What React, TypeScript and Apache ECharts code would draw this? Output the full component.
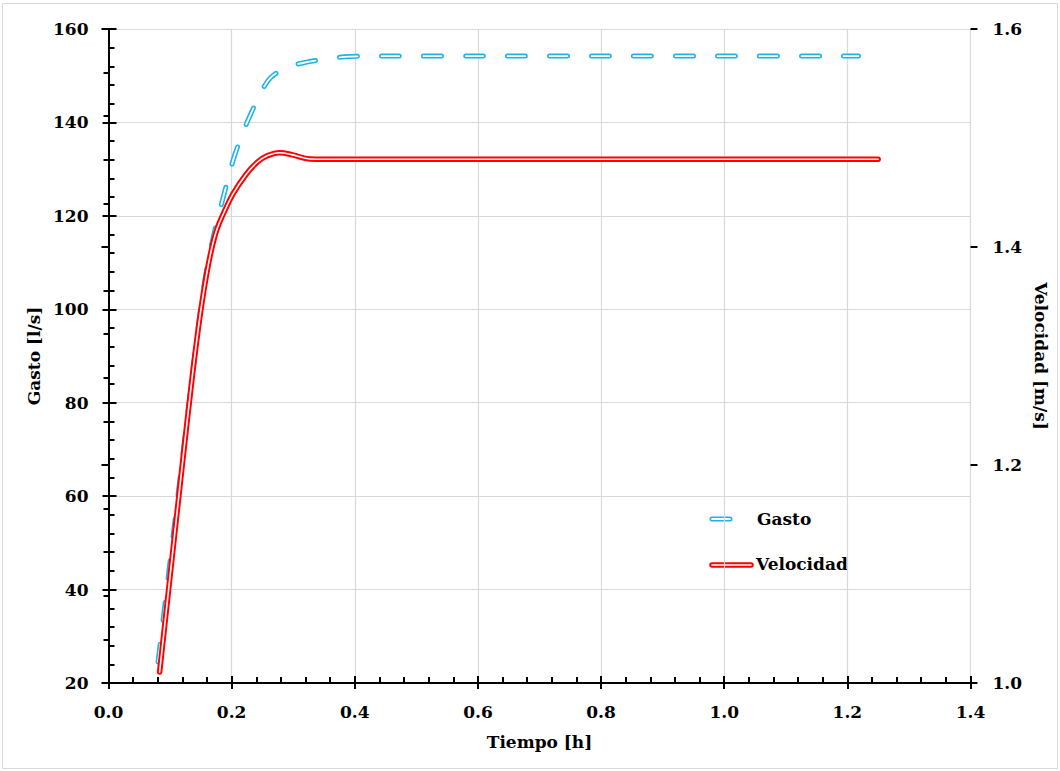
import React, { useEffect, useRef } from "react";
import * as echarts from "echarts";

const timeGasto = [0.0805, 0.1, 0.12, 0.135, 0.15, 0.16, 0.172, 0.187, 0.205, 0.229, 0.26, 0.29, 0.322, 0.36, 0.39, 0.45, 0.6, 0.8, 1.0, 1.218];
const gasto = [24.5, 46, 68, 84.5, 100.5, 109, 116.5, 124.3, 133, 141.2, 149.1, 151.8, 152.9, 153.7, 154.1, 154.2, 154.2, 154.2, 154.2, 154.2];

const timeVel = [0.083, 0.1, 0.12, 0.135, 0.143, 0.151, 0.159, 0.167, 0.176, 0.187, 0.202, 0.224, 0.242, 0.257, 0.278, 0.299, 0.327, 0.35, 0.6, 1.0, 1.25];
const velocidad = [1.010, 1.098, 1.201, 1.276, 1.313, 1.346, 1.374, 1.397, 1.416, 1.431, 1.4485, 1.467, 1.478, 1.4835, 1.4865, 1.4845, 1.4808, 1.4805, 1.4805, 1.4805, 1.4805];

const xTicks = ["0.0", "0.2", "0.4", "0.6", "0.8", "1.0", "1.2", "1.4"];
const seriesNames = ["Gasto", "Velocidad"];

const FONT = "'DejaVu Serif', serif";
const BLUE = "#1DB3EA";
const RED = "#FF0000";

export default function App() {
  const ref = useRef<HTMLDivElement>(null);
  useEffect(() => {
    if (!ref.current) return;
    const chart = echarts.init(ref.current, null, { renderer: "svg" });
    const gData = timeGasto.map((t, i) => [t, gasto[i]]);
    const vData = timeVel.map((t, i) => [t, velocidad[i]]);
    const label = { fontFamily: FONT, fontWeight: "bold" as const, fontSize: 17, color: "#000" };
    const axisLine = { show: true, lineStyle: { color: "#000", width: 2 } };
    const dash = [18, 24];
    chart.setOption({
      animation: false,
      backgroundColor: "#fff",
      grid: { left: 108.5, right: 89.5, top: 29, bottom: 88, containLabel: false },
      xAxis: [
        {
          type: "value", min: 0, max: 1.4, interval: 0.2, position: "bottom",
          name: "Tiempo [h]", nameLocation: "middle", nameGap: 50,
          nameTextStyle: { ...label },
          axisLine,
          axisTick: { show: true, inside: true, length: 7, lineStyle: { color: "#000", width: 2 } },
          minorTick: { show: true, splitNumber: 5, length: 6, lineStyle: { color: "#000", width: 2 } },
          splitLine: { show: true, lineStyle: { color: "#d9d9d9", width: 1.2 } },
          axisLabel: { ...label, margin: 20, formatter: (v: number) => xTicks[Math.round(v / 0.2)] ?? v.toFixed(1) },
        },
        {
          type: "value", min: 0, max: 1.4, interval: 0.2, position: "bottom",
          axisLine: { show: false },
          axisTick: { show: true, inside: false, length: 6, lineStyle: { color: "#000", width: 2 } },
          axisLabel: { show: false }, splitLine: { show: false },
        },
      ],
      yAxis: [
        {
          type: "value", min: 20, max: 160, interval: 20, position: "left",
          name: "Gasto [l/s]", nameLocation: "middle", nameGap: 62,
          nameTextStyle: { ...label },
          axisLine,
          axisTick: { show: true, inside: true, length: 8, lineStyle: { color: "#000", width: 2 } },
          minorTick: { show: true, splitNumber: 5, length: 6, lineStyle: { color: "#000", width: 2 } },
          splitLine: { show: true, lineStyle: { color: "#d9d9d9", width: 1.2 } },
          axisLabel: { ...label, margin: 20 },
        },
        {
          type: "value", min: 1.0, max: 1.6, interval: 0.2, position: "right",
          name: "Velocidad [m/s]", nameLocation: "middle", nameGap: 55, nameRotate: -90,
          nameTextStyle: { ...label },
          axisLine,
          axisTick: { show: true, inside: true, length: 7, lineStyle: { color: "#000", width: 2 } },
          minorTick: { show: true, splitNumber: 5, length: 5, lineStyle: { color: "#000", width: 2 } },
          splitLine: { show: false },
          axisLabel: { ...label, margin: 22, formatter: (v: number) => v.toFixed(1) },
        },
        {
          type: "value", min: 20, max: 160, interval: 20, position: "left",
          axisLine: { show: false },
          axisTick: { show: true, inside: false, length: 6, lineStyle: { color: "#000", width: 2 } },
          axisLabel: { show: false }, splitLine: { show: false },
        },
        {
          type: "value", min: 1.0, max: 1.6, interval: 0.2, position: "right",
          axisLine: { show: false },
          axisTick: { show: true, inside: false, length: 7, lineStyle: { color: "#000", width: 2 } },
          axisLabel: { show: false }, splitLine: { show: false },
        },
      ],
      series: [
        {
          name: seriesNames[0], type: "line", xAxisIndex: 0, yAxisIndex: 0, data: gData,
          showSymbol: false, symbol: "none", smooth: 0.3,
          lineStyle: { color: BLUE, width: 5, type: dash, cap: "round", join: "round" },
        },
        {
          name: seriesNames[0] + "_in", type: "line", xAxisIndex: 0, yAxisIndex: 0, data: gData,
          showSymbol: false, symbol: "none", smooth: 0.3,
          lineStyle: { color: "#fff", width: 1.8, type: dash, cap: "round", join: "round" },
        },
        {
          name: seriesNames[1], type: "line", xAxisIndex: 0, yAxisIndex: 1, data: vData,
          showSymbol: false, symbol: "none", smooth: 0.4,
          lineStyle: { color: RED, width: 5.5, cap: "round", join: "round" },
        },
        {
          name: seriesNames[1] + "_in", type: "line", xAxisIndex: 0, yAxisIndex: 1, data: vData,
          showSymbol: false, symbol: "none", smooth: 0.4,
          lineStyle: { color: "#fff", width: 1.6, cap: "round", join: "round" },
        },
      ],
      graphic: [
        { type: "rect", silent: true, shape: { x: 2.5, y: 3.5, width: 1055, height: 765 }, style: { fill: "none", stroke: "#d9d9d9", lineWidth: 1 } },
        { type: "line", shape: { x1: 712, y1: 519, x2: 730, y2: 519 }, style: { stroke: BLUE, lineWidth: 5, lineCap: "round" } },
        { type: "line", shape: { x1: 712, y1: 519, x2: 730, y2: 519 }, style: { stroke: "#fff", lineWidth: 1.8, lineCap: "round" } },
        { type: "text", x: 757, y: 519, style: { text: seriesNames[0], font: `bold 17px ${FONT}`, fill: "#000", textVerticalAlign: "middle", verticalAlign: "middle" } },
        { type: "line", shape: { x1: 712, y1: 565, x2: 751, y2: 565 }, style: { stroke: RED, lineWidth: 5.5, lineCap: "round" } },
        { type: "line", shape: { x1: 712, y1: 565, x2: 751, y2: 565 }, style: { stroke: "#fff", lineWidth: 1.6, lineCap: "round" } },
        { type: "text", x: 756, y: 564, style: { text: seriesNames[1], font: `bold 17px ${FONT}`, fill: "#000", textVerticalAlign: "middle", verticalAlign: "middle" } },
      ],
    });
    return () => chart.dispose();
  }, []);
  return <div ref={ref} style={{ position: "absolute", left: 0, top: 0, width: 1060, height: 771 }} />;
}
